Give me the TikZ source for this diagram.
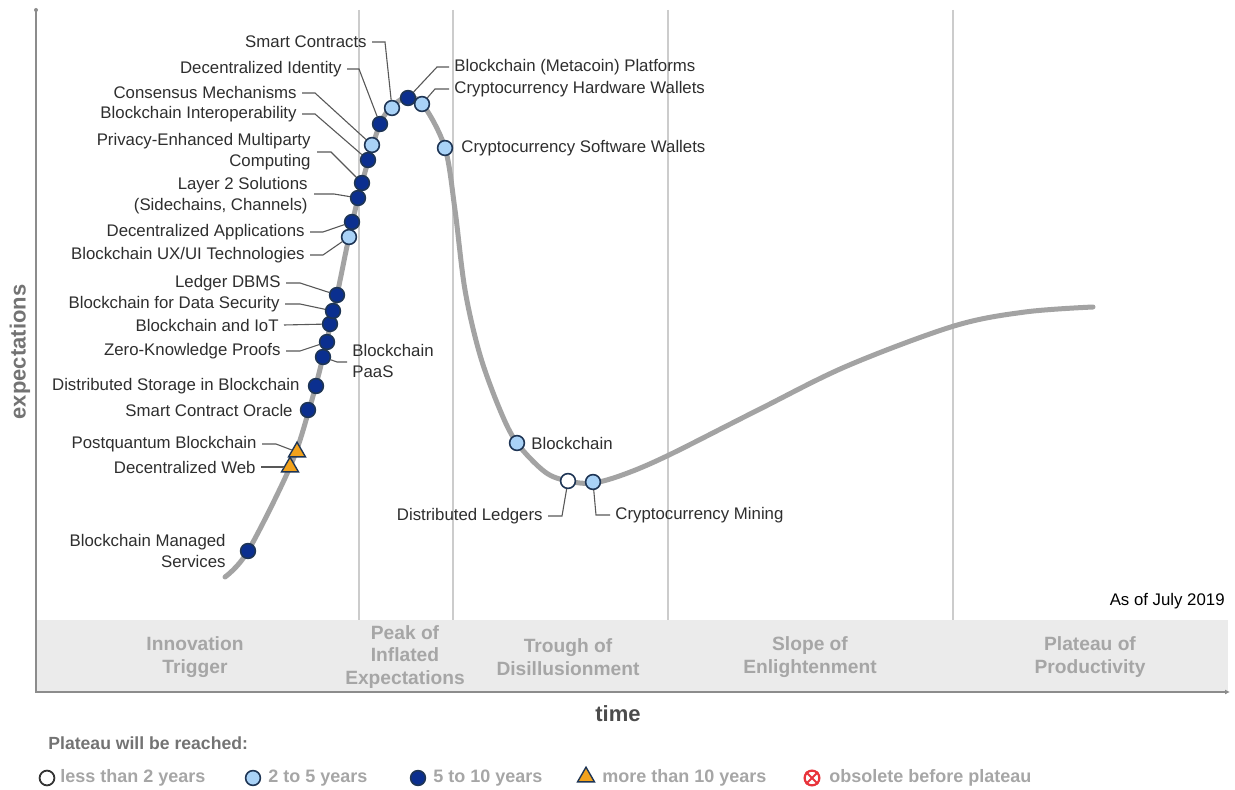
\documentclass[tikz,border=0pt]{standalone}
\usepackage{fontspec}
\setmainfont{Liberation Sans}
\usetikzlibrary{shapes.geometric,arrows.meta}

\definecolor{dkblue}{HTML}{0B2F8F}
\definecolor{ltblue}{HTML}{A9D2F7}
\definecolor{mkline}{HTML}{1E3555}
\definecolor{orng}{HTML}{F2A21C}
\definecolor{curvegray}{HTML}{A3A3A3}
\definecolor{txt}{HTML}{2E2E2E}
\definecolor{phasegray}{HTML}{A6A6A6}
\definecolor{bandgray}{HTML}{EBEBEB}
\definecolor{obred}{HTML}{E8343C}

\tikzset{
  mk/.style={circle,draw=mkline,line width=0.8pt,inner sep=0pt,minimum size=7.4pt},
  dk/.style={mk,fill=dkblue},
  lt/.style={mk,fill=ltblue},
  wt/.style={mk,fill=white},
  tri/.style={regular polygon,regular polygon sides=3,draw=mkline,line width=0.7pt,fill=orng,inner sep=0pt,minimum size=9.8pt},
  lbl/.style={font=\fontsize{8.4}{10.5}\selectfont,text=txt,inner sep=0pt},
  ld/.style={draw=txt!80,line width=0.55pt},
  phase/.style={font=\fontsize{9.6}{11.2}\selectfont\bfseries,text=phasegray,align=center},
  leg/.style={font=\fontsize{9}{11}\selectfont\bfseries,text=black!35,anchor=west,inner sep=0pt},
}

\begin{document}
\begin{tikzpicture}[x=0.5pt,y=-0.5pt]
\useasboundingbox (0,0) rectangle (1235,790);

% phase band, grid and axes
\fill[bandgray] (36,620) rectangle (1228,692);
\foreach \x in {359,453,668,953}
  \draw[black!20,line width=0.6pt] (\x,10) -- (\x,620);
\draw[black!45,line width=0.7pt,-{Latex[length=2.5pt,width=2.5pt]}] (36,10) -- (36,692) -- (1230,692);
\fill[black!45] (36,10) circle (1pt);

\node[phase] (ph1) at (195,657) {Innovation\\Trigger};
\node[phase] (ph2) at (405,657) {Peak of\\Inflated\\Expectations};
\node[phase] (ph3) at (568,657) {Trough of\\Disillusionment};
\node[phase] (ph4) at (810,657) {Slope of\\Enlightenment};
\node[phase] (ph5) at (1090,657) {Plateau of\\Productivity};

\node[font=\fontsize{11}{13}\selectfont\bfseries,text=black!70] (time) at (618,714) {time};
\node[font=\fontsize{11}{13}\selectfont\bfseries,text=black!55,rotate=90] (expect) at (20,352) {expectations};
\node[lbl,anchor=east,text=black] (asof) at (1225,601) {As of July 2019};

% hype curve
\draw[curvegray,line width=2.5pt,line cap=round] plot[smooth,tension=0.55] coordinates {(225,577) (248,551) (290,467) (309,410) (323,357) (337,295) (349,237) (362,183) (380,124) (395,104) (409,97) (424,106) (445,148) (455,210) (465,290) (480,355) (500,410) (517,443) (545,472) (568,481) (593,483) (625,474) (669,455) (758,410) (847,366) (954,326) (1025,312) (1093,307)};

% markers
\node[dk] (m-mgd) at (248,551) {};
\node[tri] (m-dweb) at (290,467) {};
\node[tri] (m-pq) at (297,452) {};
\node[dk] (m-orc) at (308,410) {};
\node[dk] (m-stor) at (316,386) {};
\node[dk] (m-paas) at (323,357) {};
\node[dk] (m-zkp) at (327,342) {};
\node[dk] (m-iot) at (330,324) {};
\node[dk] (m-dsec) at (333,311) {};
\node[dk] (m-ldb) at (337,295) {};
\node[lt] (m-ux) at (349,237) {};
\node[dk] (m-da) at (352,222) {};
\node[dk] (m-l2) at (358,198) {};
\node[dk] (m-pe) at (362,183) {};
\node[dk] (m-bi) at (368,160) {};
\node[lt] (m-cm) at (372,145) {};
\node[dk] (m-di) at (380,124) {};
\node[lt] (m-sc) at (392,108) {};
\node[dk] (m-meta) at (408,98) {};
\node[lt] (m-hw) at (422,104) {};
\node[lt] (m-sw) at (445,148) {};
\node[lt] (m-bc) at (517,443) {};
\node[wt] (m-dl) at (568,481) {};
\node[lt] (m-mine) at (593,482) {};

% labels
\node[lbl,anchor=east] (sc) at (367,42) {Smart Contracts};
\node[lbl,anchor=east] (di) at (342,69) {Decentralized Identity};
\node[lbl,anchor=east] (cm) at (297,93) {Consensus Mechanisms};
\node[lbl,anchor=east] (bi) at (297,114) {Blockchain Interoperability};
\node[lbl,anchor=east,align=right] (pe) at (311,152) {Privacy-Enhanced Multiparty\\Computing};
\node[lbl,anchor=east,align=right] (l2) at (308,196) {Layer 2 Solutions\\(Sidechains, Channels)};
\node[lbl,anchor=east] (da) at (305,232) {Decentralized Applications};
\node[lbl,anchor=east] (ux) at (305,255) {Blockchain UX/UI Technologies};
\node[lbl,anchor=east] (ldb) at (281,283) {Ledger DBMS};
\node[lbl,anchor=east] (dsec) at (280,304) {Blockchain for Data Security};
\node[lbl,anchor=east] (iot) at (279,325) {Blockchain and IoT};
\node[lbl,anchor=east] (zkp) at (281,351) {Zero-Knowledge Proofs};
\node[lbl,anchor=west,align=left] (paas) at (352,361) {Blockchain\\PaaS};
\node[lbl,anchor=east] (stor) at (300,386) {Distributed Storage in Blockchain};
\node[lbl,anchor=east] (orc) at (293,410) {Smart Contract Oracle};
\node[lbl,anchor=east] (pq) at (257,444) {Postquantum Blockchain};
\node[lbl,anchor=east] (dweb) at (256,467) {Decentralized Web};
\node[lbl,anchor=east,align=right] (mgd) at (226,551) {Blockchain Managed\\Services};
\node[lbl,anchor=west] (meta) at (454,67) {Blockchain (Metacoin) Platforms};
\node[lbl,anchor=west] (hw) at (454,89) {Cryptocurrency Hardware Wallets};
\node[lbl,anchor=west] (sw) at (461,148) {Cryptocurrency Software Wallets};
\node[lbl,anchor=west] (bc) at (531,443) {Blockchain};
\node[lbl,anchor=east] (dl) at (543,516) {Distributed Ledgers};
\node[lbl,anchor=west] (mine) at (615,515) {Cryptocurrency Mining};

% leader lines
\draw[ld] ([xshift=2.5pt]sc.east) -- ++(13,0) -- (m-sc);
\draw[ld] ([xshift=2.5pt]di.east) -- ++(12,0) -- (m-di);
\draw[ld] ([xshift=2.5pt]cm.east) -- ++(13,0) -- (m-cm);
\draw[ld] ([xshift=2.5pt]bi.east) -- ++(13,0) -- (m-bi);
\draw[ld] ([xshift=3pt]pe.east) -- ++(14,0) -- (m-pe);
\draw[ld] ([xshift=3pt,yshift=1pt]l2.east) -- ++(20,0) -- (m-l2);
\draw[ld] ([xshift=2.5pt]da.east) -- ++(13,0) -- (m-da);
\draw[ld] ([xshift=2.5pt]ux.east) -- ++(13,0) -- (m-ux);
\draw[ld] ([xshift=2.5pt]ldb.east) -- ++(14,0) -- (m-ldb);
\draw[ld] ([xshift=2.5pt]dsec.east) -- ++(15,0) -- (m-dsec);
\draw[ld] ([xshift=2.5pt]iot.east) -- (m-iot);
\draw[ld] ([xshift=2.5pt]zkp.east) -- ++(14,0) -- (m-zkp);
\draw[ld] ([xshift=-2.5pt,yshift=-0.5pt]paas.west) -- ++(-10,0) -- (m-paas);
\draw[ld] ([xshift=2.5pt]pq.east) -- ++(14,0) -- (m-pq);
\draw[ld] ([xshift=2.5pt]dweb.east) -- (m-dweb);
\draw[ld] ([xshift=-2.5pt]meta.west) -- ++(-12,0) -- (m-meta);
\draw[ld] ([xshift=-2.5pt]hw.west) -- ++(-14,0) -- (m-hw);
\draw[ld] ([xshift=2.5pt]dl.east) -- ++(14,0) -- (m-dl);
\draw[ld] ([xshift=-2.5pt]mine.west) -- ++(-14,0) -- (m-mine);

% legend
\node[font=\fontsize{8.8}{10}\selectfont\bfseries,text=black!55,anchor=west,inner sep=0pt] (plat) at (48,743) {Plateau will be reached:};
\node[wt,draw=black!80,line width=0.9pt] (k1) at (47,778) {};
\node[leg] (k1t) at (60,778) {less than 2 years};
\node[lt] (k2) at (253,778) {};
\node[leg] (k2t) at (268,778) {2 to 5 years};
\node[dk] (k3) at (418,778) {};
\node[leg] (k3t) at (433,778) {5 to 10 years};
\node[tri] (k4) at (586,777) {};
\node[leg] (k4t) at (602,778) {more than 10 years};
\node[circle,draw=obred,line width=1.1pt,inner sep=0pt,minimum size=7.4pt] (k5) at (812,778) {};
\draw[obred,line width=0.9pt] (k5.north west) -- (k5.south east) (k5.north east) -- (k5.south west);
\node[leg] (k5t) at (829,778) {obsolete before plateau};
\end{tikzpicture}
\end{document}
